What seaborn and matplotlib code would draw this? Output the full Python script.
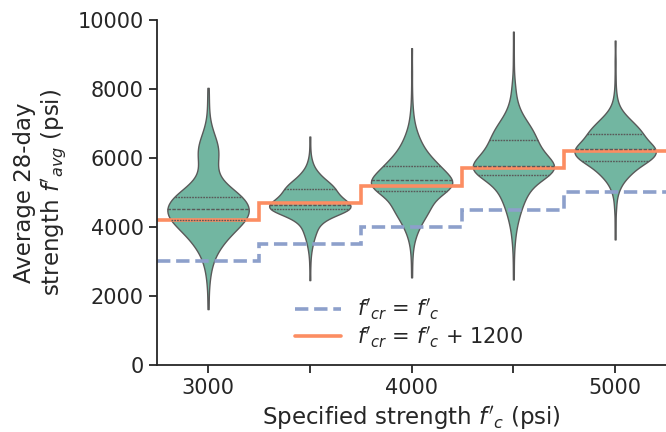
import numpy as np
import pandas as pd

import matplotlib
matplotlib.use('Agg')
import matplotlib.pyplot as plt
import seaborn as sns


# Specified strengths (psi)
specified = [3000, 3500, 4000, 4500, 5000]
x_tick_labels = ['3000', '', '4000', '', '5000']

# Average 28-day strength: strength levels (psi) and how many results sit at each
levels_3000 = [1620, 2200, 2600, 2950, 3300, 3600, 3900, 4200, 4510, 4880,
               5200, 5500, 5800, 6050, 6300, 6550, 6850, 7200, 7600, 8030]
counts_3000 = [1, 1, 2, 4, 8, 14, 22, 34, 44, 40, 12, 7, 6, 8, 9, 6, 3, 1, 1, 1]

levels_3500 = [2460, 2900, 3250, 3550, 3850, 4150, 4380, 4510, 4640, 4850,
               5090, 5300, 5550, 5850, 6200, 6620]
counts_3500 = [1, 1, 2, 5, 10, 16, 22, 34, 40, 36, 32, 22, 12, 4, 1, 1]

levels_4000 = [2540, 3000, 3400, 3750, 4050, 4350, 4650, 5040, 5200, 5350,
               5550, 5780, 6050, 6350, 6650, 7000, 7400, 7900, 8500, 9180]
counts_4000 = [1, 1, 2, 5, 10, 18, 28, 40, 20, 40, 25, 30, 20, 13, 8, 4, 2, 1, 1, 1]

levels_4500 = [2480, 3000, 3500, 3900, 4300, 4700, 5100, 5500, 5640, 5780,
               6000, 6250, 6520, 6800, 7100, 7500, 8000, 8500, 9000, 9660]
counts_4500 = [1, 1, 2, 4, 9, 16, 26, 38, 22, 40, 30, 28, 26, 24, 16, 8, 4, 1, 1, 1]

levels_5000 = [3640, 4100, 4600, 5000, 5300, 5600, 5910, 6080, 6250, 6450,
               6700, 6950, 7200, 7500, 7850, 8300, 8800, 9400]
counts_5000 = [1, 1, 2, 4, 10, 25, 40, 25, 45, 30, 35, 24, 14, 5, 2, 1, 1, 1]

margin = 1200


def main():

    sns.set_theme(style='ticks', palette='Set2')
    plt.rcParams['font.family'] = ['DejaVu Sans']

    # Long-format table for seaborn
    groups = [(levels_3000, counts_3000), (levels_3500, counts_3500),
              (levels_4000, counts_4000), (levels_4500, counts_4500),
              (levels_5000, counts_5000)]
    frames = []
    for spec_value, (levels, counts) in zip(specified, groups):
        values = np.repeat(levels, counts)
        frames.append(pd.DataFrame({'specified': spec_value, 'average': values}))
    df = pd.concat(frames, ignore_index=True)

    fig, ax = plt.subplots(figsize=(6.66, 4.32), dpi=100)
    fig.subplots_adjust(left=0.236, right=1.0, top=0.954, bottom=0.155)

    pal = sns.color_palette('Set2')

    sns.violinplot(data=df, x='specified', y='average', native_scale=True,
                   inner='quart', cut=0, bw_adjust=1.0, density_norm='width',
                   color=pal[0], linewidth=1, ax=ax)

    # Required average strength lines
    spec = np.array(specified)
    edges = np.r_[spec - 250, spec[-1] + 250]
    ax.stairs(spec, edges, baseline=None, color=pal[2], lw=2.6, ls='--',
              label="$f'_{cr}$ = $f'_c$")
    ax.stairs(spec + margin, edges, baseline=None, color=pal[1], lw=2.6,
              label="$f'_{cr}$ = $f'_c$ + 1200")

    ax.set_xlim(edges[0], edges[-1])
    ax.set_ylim(0, 10000)
    ax.set_xticks(specified)
    ax.set_xticklabels(x_tick_labels)
    ax.tick_params(labelsize=15, length=6, width=1.3)
    for side in ['left', 'bottom']:
        ax.spines[side].set_linewidth(1.3)

    ax.set_xlabel("Specified strength $f'_c$ (psi)", fontsize=16.5, labelpad=5)
    ax.set_ylabel("Average 28-day\nstrength $f'_{avg}$ (psi)", fontsize=16.5, labelpad=6)

    ax.legend(loc='lower center', bbox_to_anchor=(0.495, -0.01), frameon=False,
              fontsize=15, handlelength=2.2, labelspacing=0.1)
    sns.despine(ax=ax)

    plt.savefig('out.png', dpi=100)
    plt.close()


if __name__ == '__main__':
    main()
